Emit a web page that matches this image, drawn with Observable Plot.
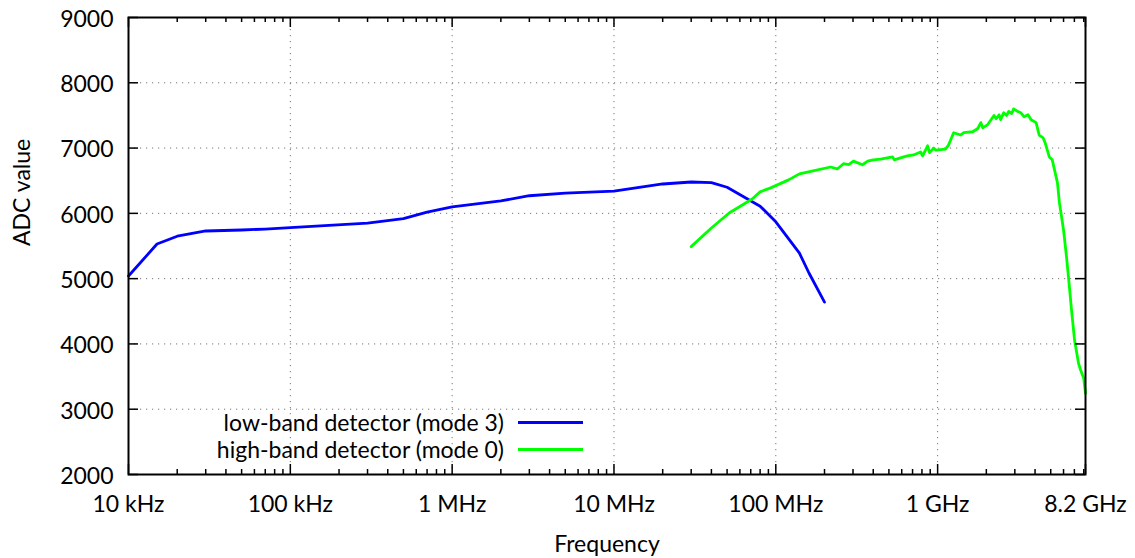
<!DOCTYPE html>
<html>
<head>
<meta charset="utf-8">
<script src="https://cdn.jsdelivr.net/npm/d3@7"></script>
<script src="https://cdn.jsdelivr.net/npm/@observablehq/plot@0.6"></script>
<style>
  body { margin: 0; background: #fff; }
  #wrap { position: relative; width: 1135px; height: 558px; font-family: Lato, sans-serif; color: #000; }
  #wrap svg { display: block; }
  .lg-text { position: absolute; left: 0; width: 504px; text-align: right; font-size: 23px; line-height: 26px; white-space: nowrap; }
  .lg-line { position: absolute; left: 518px; width: 65px; height: 3px; }
</style>
</head>
<body>
<div id="wrap"></div>
<script>
// ---- data ----
const lowFreq = [1e4, 1.5e4, 2e4, 3e4, 5e4, 7e4, 1e5, 3e5, 5e5, 7e5, 1e6, 2e6, 3e6, 5e6, 1e7, 2e7, 3e7, 4e7, 5e7, 8e7, 1e8, 1.4e8, 1.6e8, 2e8];
const lowADC  = [5040, 5530, 5650, 5730, 5745, 5760, 5780, 5850, 5920, 6020, 6100, 6190, 6270, 6310, 6340, 6450, 6480, 6470, 6400, 6110, 5870, 5390, 5090, 4640];

const highFreq = [3.0e7, 4.0e7, 5.15e7, 7.15e7, 8.0e7, 9.3e7, 1.2e8, 1.4e8, 1.7e8, 2.18e8, 2.4e8, 2.62e8, 2.82e8, 3.02e8, 3.43e8, 3.7e8, 4.0e8,
  4.44e8, 5.27e8, 5.4e8, 5.89e8, 6.5e8, 7.1e8, 7.85e8, 8.08e8, 8.67e8, 8.92e8, 9.45e8, 9.72e8,
  1.12e9, 1.17e9, 1.256e9, 1.39e9, 1.45e9, 1.65e9, 1.77e9, 1.85e9, 1.9e9, 2.04e9, 2.23e9, 2.3e9, 2.4e9, 2.45e9, 2.56e9, 2.67e9, 2.75e9, 2.87e9, 2.95e9,
  3.13e9, 3.27e9, 3.42e9, 3.62e9, 3.78e9, 4.06e9, 4.24e9, 4.49e9, 4.62e9, 4.9e9, 5.11e9, 5.5e9, 5.66e9, 6.0e9, 6.26e9, 6.44e9, 6.72e9, 7.02e9, 7.43e9, 7.65e9, 7.99e9, 8.2e9];
const highADC  = [5490, 5776, 6006, 6220, 6330, 6390, 6513, 6605, 6650, 6710, 6680, 6760, 6745, 6800, 6745, 6800, 6820,
  6830, 6865, 6820, 6850, 6880, 6895, 6940, 6880, 7035, 6930, 7000, 6970,
  6985, 7050, 7235, 7200, 7235, 7250, 7300, 7390, 7310, 7360, 7500, 7450, 7510, 7435, 7540, 7500, 7560, 7530, 7600,
  7560, 7540, 7480, 7510, 7435, 7390, 7200, 7155, 7080, 6865, 6820, 6470, 6160, 5745, 5330, 5020, 4520, 4055, 3700, 3600, 3475, 3245];

const xTickValues = [1e4, 1e5, 1e6, 1e7, 1e8, 1e9, 8.2e9];
const xTickLabels = ["10 kHz", "100 kHz", "1 MHz", "10 MHz", "100 MHz", "1 GHz", "8.2 GHz"];
const yTickValues = [2000, 3000, 4000, 5000, 6000, 7000, 8000, 9000];
const seriesNames = ["low-band detector (mode 3)", "high-band detector (mode 0)"];
const seriesColors = ["#0000ff", "#00ff00"];
const xLabel = "Frequency";
const yLabel = "ADC value";

// ---- build ----
const low = lowFreq.map((f, i) => ({f, v: lowADC[i]}));
const high = highFreq.map((f, i) => ({f, v: highADC[i]}));
const xTicks = xTickValues.map((v, i) => ({v, label: xTickLabels[i]}));

const W = 1135, H = 558, mL = 128, mR = 50, mT = 17, mB = 84;
const fw = W - mL - mR, fh = H - mT - mB;

const xMinor = [];
for (let e = 4; e <= 9; e++) for (let m = 2; m <= 9; m++) { const v = m * Math.pow(10, e); if (v < 8.2e9) xMinor.push(v); }

const gridStyle = {stroke: "#777", strokeOpacity: 1, strokeWidth: 1, strokeDasharray: "1.2,4.8"};
const tickStyle = {stroke: "#000", strokeWidth: 1.5};

const chart = Plot.plot({
  width: W, height: H,
  marginLeft: mL, marginRight: mR, marginTop: mT, marginBottom: mB,
  style: {fontFamily: "Lato, sans-serif", fontSize: "23px", color: "#000", background: "#fff", overflow: "visible"},
  x: {type: "log", domain: [1e4, 8.2e9], axis: null},
  y: {domain: [2000, 9000], axis: null},
  marks: [
    Plot.gridX(xTickValues.slice(1, -1), gridStyle),
    Plot.gridY(yTickValues.slice(1, -1), gridStyle),
    Plot.line(low, {x: "f", y: "v", stroke: seriesColors[0], strokeWidth: 2.8}),
    Plot.line(high, {x: "f", y: "v", stroke: seriesColors[1], strokeWidth: 2.8}),
    Plot.tickX(xTickValues, {x: d => d, insetTop: fh - 10, ...tickStyle}),
    Plot.tickX(xTickValues, {x: d => d, insetBottom: fh - 10, ...tickStyle}),
    Plot.tickX(xMinor, {x: d => d, insetTop: fh - 5, ...tickStyle}),
    Plot.tickX(xMinor, {x: d => d, insetBottom: fh - 5, ...tickStyle}),
    Plot.tickY(yTickValues, {y: d => d, insetRight: fw - 10, ...tickStyle}),
    Plot.tickY(yTickValues, {y: d => d, insetLeft: fw - 10, ...tickStyle}),
    Plot.text(xTicks, {x: "v", text: "label", frameAnchor: "bottom", lineAnchor: "top", dy: 21, fontSize: 23}),
    Plot.text(yTickValues, {y: d => d, text: d => String(d), frameAnchor: "left", textAnchor: "end", dx: -15, dy: 2, fontSize: 23}),
    Plot.frame({stroke: "#000", strokeWidth: 2}),
    Plot.text([xLabel], {text: d => d, frameAnchor: "bottom", dy: 77, fontSize: 23}),
    Plot.text([yLabel], {text: d => d, frameAnchor: "left", rotate: -90, dx: -106, fontSize: 23})
  ]
});

const wrap = document.getElementById("wrap");
wrap.appendChild(chart);

const legendRows = [422, 449];
seriesNames.forEach((name, i) => {
  const t = document.createElement("div");
  t.className = "lg-text";
  t.style.top = (legendRows[i] - 13) + "px";
  t.textContent = name;
  wrap.appendChild(t);
  const l = document.createElement("div");
  l.className = "lg-line";
  l.style.top = (legendRows[i] - 1.5) + "px";
  l.style.background = seriesColors[i];
  wrap.appendChild(l);
});
</script>
</body>
</html>
